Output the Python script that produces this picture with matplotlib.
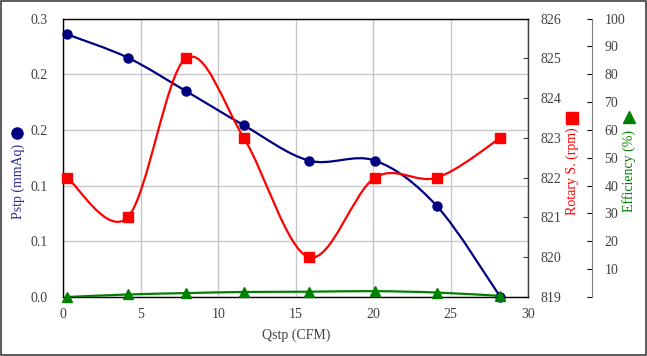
import matplotlib
matplotlib.use('Agg')
import matplotlib.pyplot as plt
from matplotlib.path import Path
from matplotlib.patches import PathPatch, Rectangle
from matplotlib.lines import Line2D

plt.rcParams['font.family'] = ['Liberation Serif', 'DejaVu Serif']
plt.rcParams['font.size'] = 10

# data
qstp = [0.25, 4.15, 7.9, 11.65, 15.85, 20.1, 24.1, 28.2]
pstp = [0.283, 0.258, 0.222, 0.185, 0.147, 0.147, 0.098, 0.0]
rpm = [822, 821, 825, 823, 820, 822, 822, 823]
eff = [0.0, 0.9, 1.4, 1.8, 1.9, 2.1, 1.6, 0.4]

pstp_ticks = [0, 0.06, 0.12, 0.18, 0.24, 0.3]
rpm_ticks = [819, 820, 821, 822, 823, 824, 825, 826]
eff_ticks = [0, 10, 20, 30, 40, 50, 60, 70, 80, 90, 100]
x_ticks = [0, 5, 10, 15, 20, 25, 30]

blue = '#000080'
red = '#ff0000'
green = '#008000'
grey = '#404040'


def smooth(xs, ys):
    # excel-like smoothed line (catmull-rom as bezier)
    pts = list(zip(xs, ys))
    verts = [pts[0]]
    codes = [Path.MOVETO]
    n = len(pts)
    for i in range(n - 1):
        p0 = pts[i - 1] if i > 0 else pts[i]
        p1 = pts[i]
        p2 = pts[i + 1]
        p3 = pts[i + 2] if i + 2 < n else pts[i + 1]
        c1 = (p1[0] + (p2[0] - p0[0]) / 6, p1[1] + (p2[1] - p0[1]) / 6)
        c2 = (p2[0] - (p3[0] - p1[0]) / 6, p2[1] - (p3[1] - p1[1]) / 6)
        verts += [c1, c2, p2]
        codes += [Path.CURVE4] * 3
    return Path(verts, codes)


fig = plt.figure(figsize=(6.47, 3.56), dpi=100)
W, H = 647, 356
ax1 = fig.add_axes([63.3 / W, 1 - 297 / H, 465 / W, 278.4 / H])
ax2 = ax1.twinx()
ax3 = ax1.twinx()

# left axis
ax1.set_xlim(0, 30)
ax1.set_ylim(0, 0.3)
ax1.set_xticks(x_ticks)
ax1.set_yticks(pstp_ticks)
ax1.set_yticklabels(['%.1f' % v for v in pstp_ticks])
ax1.tick_params(axis='both', length=0, colors=grey, labelsize=10)
ax1.tick_params(axis='y', pad=11)
ax1.tick_params(axis='x', pad=8)
ax1.grid(color='#c8c8c8', linewidth=1)
ax1.set_axisbelow(True)
for s in ax1.spines.values():
    s.set_color(grey)
    s.set_linewidth(1)
ax1.add_patch(PathPatch(smooth(qstp, pstp), fill=False, edgecolor=blue, lw=1.6, zorder=3))
ax1.plot(qstp, pstp, linestyle='none', marker='o', markersize=6.5, color=blue, zorder=4, clip_on=False)
ax1.set_xlabel('Qstp (CFM)', fontsize=10, color=grey, labelpad=5)

# rpm axis
ax2.set_ylim(819, 826)
ax2.set_yticks(rpm_ticks)
ax2.tick_params(axis='y', direction='in', length=3.3, colors=grey, labelsize=10, pad=9)
ax2.spines['right'].set_color(grey)
ax2.add_patch(PathPatch(smooth(qstp, rpm), fill=False, edgecolor=red, lw=1.6, zorder=3))
ax2.plot(qstp, rpm, linestyle='none', marker='s', markersize=6.5, color=red, zorder=4, clip_on=False)

# efficiency axis
ax3.set_ylim(0, 100)
ax3.spines['right'].set_position(('axes', 1.137))
ax3.spines['right'].set_color('#808080')
for k in ['top', 'left', 'bottom']:
    ax3.spines[k].set_visible(False)
ax3.set_yticks(eff_ticks)
ax3.set_yticklabels([''] + [str(v) for v in eff_ticks[1:]])
ax3.tick_params(axis='y', direction='in', length=3.3, color='black', labelcolor=grey, labelsize=10, pad=9)
ax3.add_patch(PathPatch(smooth(qstp, eff), fill=False, edgecolor=green, lw=1.6, zorder=3))
ax3.plot(qstp, eff, linestyle='none', marker='^', markersize=6.5, color=green, zorder=4, clip_on=False)

# axis titles with legend markers
fig.text(18 / W, 1 - 181 / H, 'Pstp (mmAq)', rotation=90, ha='center', va='center', color='#2a2a90', fontsize=10)
fig.text(572 / W, 1 - 171.5 / H, 'Rotary S. (rpm)', rotation=90, ha='center', va='center', color=red, fontsize=10)
fig.text(629 / W, 1 - 170.5 / H, 'Efficiency (%)', rotation=90, ha='center', va='center', color=green, fontsize=10)
fig.add_artist(Line2D([17.3 / W], [1 - 133.3 / H], marker='o', markersize=8, color=blue, transform=fig.transFigure))
fig.add_artist(Line2D([571.7 / W], [1 - 117.7 / H], marker='s', markersize=8, color=red, transform=fig.transFigure))
fig.add_artist(Line2D([629 / W], [1 - 116.7 / H], marker='^', markersize=8, color=green, transform=fig.transFigure))

# frame around the figure
fig.add_artist(Rectangle((0.001, 0.002), 0.997, 0.996, transform=fig.transFigure,
                         fill=False, edgecolor='#404040', lw=1.2))

fig.savefig('out.png', dpi=100)
